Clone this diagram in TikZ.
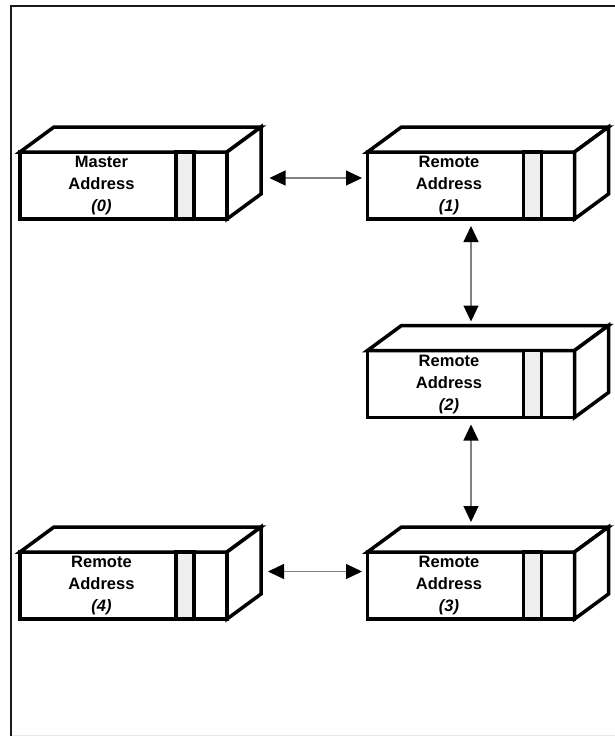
\documentclass[tikz,border=0pt]{standalone}
\usepackage{fontspec}
\setmainfont{Liberation Sans}
\usetikzlibrary{arrows.meta,calc}
\definecolor{stripgray}{HTML}{EEEEEE}
\definecolor{linkgray}{HTML}{808080}
\definecolor{framegray}{HTML}{E8E8E8}
\tikzset{
  front/.style={draw, line width=3.5pt, fill=white, minimum width=207pt, minimum height=67pt, inner sep=0pt, outer sep=0pt},
  face/.style={draw, line width=3.5pt, fill=white},
  strip/.style={draw, line width=3.5pt, fill=stripgray},
  boxlabel/.style={font=\bfseries\fontsize{16.5}{22}\selectfont, align=center},
  link/.style={draw=linkgray, line width=1.2pt,
    {Triangle[length=16pt,width=15pt,color=black]}-{Triangle[length=16pt,width=15pt,color=black]}}
}
% one address box: name, position, label
\newcommand{\addrbox}[3]{%
  \node[front] (#1) at (#2) {};
  \draw[face] (#1.north west) -- ++(34pt,25pt) -- ($(#1.north east)+(34pt,25pt)$) -- (#1.north east) -- cycle;
  \draw[face] (#1.north east) -- ++(34pt,25pt) -- ($(#1.south east)+(34pt,25pt)$) -- (#1.south east) -- cycle;
  \draw[strip] ($(#1.north east)+(-51pt,0)$) rectangle ($(#1.south east)+(-33pt,0)$);
  \node[boxlabel] (#1-text) at ([xshift=-22pt,yshift=-0.5pt]#1.center) {#3};
}
\begin{document}
\begin{tikzpicture}[x=1pt, y=-1pt]
	\useasboundingbox (0,0) rectangle (615,736);

	% frame
	\draw[line width=2pt, black!90] (11,736) -- (11,6) -- (615,6);
	\draw[line width=1pt, framegray] (12,735) -- (615,735);

	\addrbox{m0}{123.5,185.5}{Master\\Address\\\textit{(0)}}
	\addrbox{r1}{471,185.5}{Remote\\Address\\\textit{(1)}}
	\addrbox{r2}{471,384}{Remote\\Address\\\textit{(2)}}
	\addrbox{r3}{471,585.5}{Remote\\Address\\\textit{(3)}}
	\addrbox{r4}{123.5,585.5}{Remote\\Address\\\textit{(4)}}

	\draw[link] ([xshift=42.5pt,yshift=7.5pt]m0.east) -- ([xshift=-5.5pt,yshift=7.5pt]r1.west);
	\draw[link] ([yshift=-7pt]r1.south) -- ([yshift=29pt]r2.north);
	\draw[link] ([yshift=-7pt]r2.south) -- ([yshift=30pt]r3.north);
	\draw[link] ([xshift=-5.5pt,yshift=14pt]r3.west) -- ([xshift=41pt,yshift=14pt]r4.east);
\end{tikzpicture}
\end{document}
